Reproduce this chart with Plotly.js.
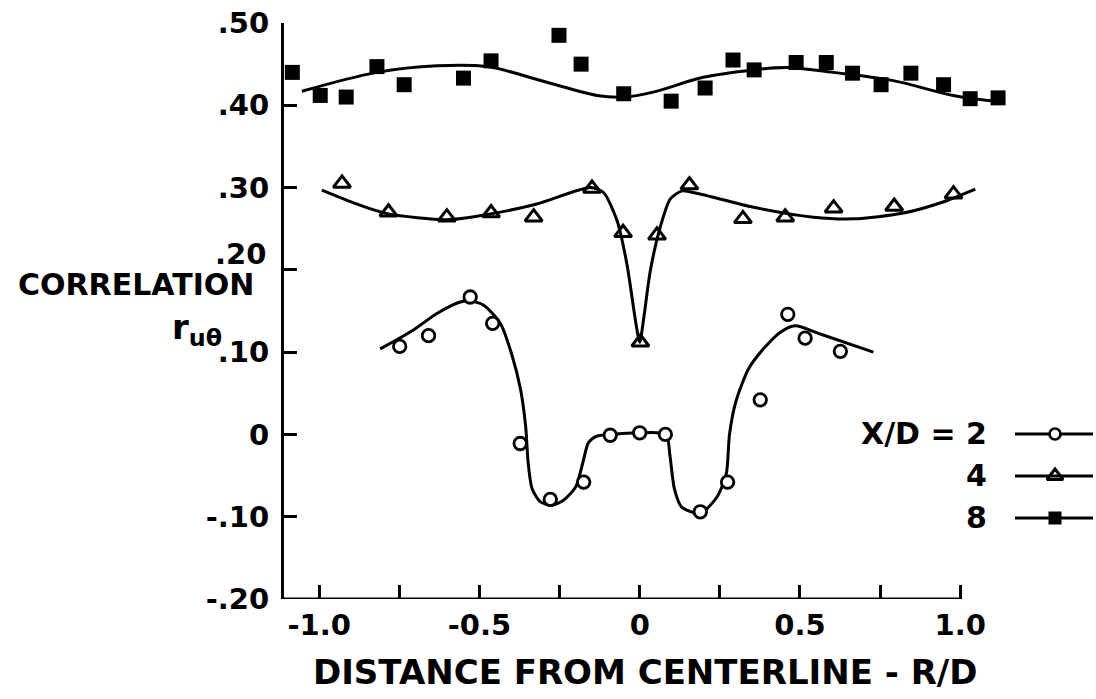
<!DOCTYPE html>
<html>
<head>
<meta charset="utf-8">
<script src="https://cdn.plot.ly/plotly-3.0.1.min.js"></script>
<style>html,body{margin:0;padding:0;background:#fff;}#chart{width:1096px;height:699px;}</style>
</head>
<body>
<div id="chart"></div>
<script>
// ---------- data ----------
// X/D = 8 : filled squares
const xd8X = [-1.084, -0.997, -0.916, -0.820, -0.735, -0.550, -0.464, -0.252, -0.183, -0.050, 0.098, 0.204, 0.291, 0.357, 0.488, 0.582, 0.664, 0.753, 0.846, 0.948, 1.031, 1.118];
const xd8Y = [0.440, 0.412, 0.410, 0.447, 0.425, 0.433, 0.454, 0.485, 0.450, 0.414, 0.405, 0.421, 0.455, 0.443, 0.452, 0.452, 0.439, 0.425, 0.439, 0.425, 0.408, 0.409];
const xd8CurveX = [-1.054, -0.820, -0.633, -0.477, -0.290, -0.134, -0.050, 0.042, 0.198, 0.354, 0.459, 0.604, 0.791, 0.978, 1.134];
const xd8CurveY = [0.417, 0.440, 0.448, 0.447, 0.428, 0.412, 0.410, 0.416, 0.434, 0.443, 0.446, 0.440, 0.430, 0.412, 0.404];

// X/D = 4 : open triangles
const xd4X = [-0.929, -0.784, -0.602, -0.464, -0.331, -0.149, -0.052, 0.002, 0.054, 0.155, 0.322, 0.454, 0.605, 0.794, 0.979];
const xd4Y = [0.305, 0.270, 0.264, 0.269, 0.264, 0.299, 0.245, 0.112, 0.242, 0.303, 0.262, 0.264, 0.275, 0.277, 0.292];
const xd4CurveX = [-0.992, -0.882, -0.784, -0.602, -0.466, -0.321, -0.154, -0.113, -0.071, -0.040, -0.012, 0.000, 0.012, 0.033, 0.064, 0.095, 0.132, 0.178, 0.355, 0.542, 0.667, 0.823, 0.958, 1.047];
const xd4CurveY = [0.297, 0.280, 0.268, 0.261, 0.268, 0.280, 0.300, 0.294, 0.260, 0.207, 0.135, 0.112, 0.140, 0.199, 0.252, 0.286, 0.296, 0.293, 0.276, 0.264, 0.262, 0.269, 0.284, 0.298];

// X/D = 2 : open circles
const xd2X = [-0.749, -0.659, -0.529, -0.459, -0.373, -0.279, -0.175, -0.092, 0.000, 0.080, 0.189, 0.274, 0.376, 0.462, 0.516, 0.626];
const xd2Y = [0.107, 0.120, 0.167, 0.135, -0.011, -0.079, -0.058, -0.001, 0.002, 0.000, -0.094, -0.058, 0.042, 0.146, 0.117, 0.101];
const xd2CurveX = [-0.810, -0.706, -0.633, -0.560, -0.529, -0.487, -0.435, -0.400, -0.372, -0.356, -0.348, -0.336, -0.310, -0.274, -0.238, -0.200, -0.178, -0.160, -0.134, -0.092, 0.000, 0.082, 0.094, 0.108, 0.130, 0.189, 0.241, 0.270, 0.280, 0.300, 0.340, 0.386, 0.438, 0.485, 0.563, 0.729];
const xd2CurveY = [0.104, 0.127, 0.147, 0.161, 0.162, 0.157, 0.135, 0.098, 0.055, 0.010, -0.035, -0.066, -0.082, -0.086, -0.080, -0.064, -0.035, -0.010, -0.002, 0.000, 0.002, 0.000, -0.025, -0.066, -0.088, -0.096, -0.076, -0.048, 0.000, 0.040, 0.080, 0.104, 0.124, 0.132, 0.122, 0.100];

const xTickVals = [-1, -0.75, -0.5, -0.25, 0, 0.25, 0.5, 0.75, 1];
const xTickText = ['-1.0', '', '-0.5', '', '0', '', '0.5', '', '1.0'];
const yTickVals = [-0.2, -0.1, 0, 0.1, 0.2, 0.3, 0.4, 0.5];
const yTickText = ['-.20', '-.10', '0', '.10', '.20', '.30', '.40', '.50'];

const seriesNames = ['X/D = 2', '4', '8'];

// ---------- layout constants ----------
const W = 1096, H = 699;
const FONT = 'DejaVu Sans';
const BLK = '#000';
const lineW = 3;

const lin = (x, y, sm) => ({x, y, type: 'scatter', mode: 'lines', line: {color: BLK, width: lineW, shape: 'spline', smoothing: sm}, hoverinfo: 'skip', xaxis: 'x', yaxis: 'y'});

const traces = [
  lin(xd8CurveX, xd8CurveY, 1.0),
  lin(xd4CurveX, xd4CurveY, 0.7),
  lin(xd2CurveX, xd2CurveY, 0.7),
  {x: xd8X, y: xd8Y, type: 'scatter', mode: 'markers', cliponaxis: false,
   marker: {symbol: 'square', size: 15, color: BLK, line: {width: 0}}},
  {x: xd4X, y: xd4Y, type: 'scatter', mode: 'markers', cliponaxis: false,
   marker: {symbol: 'triangle-up-open', size: 15, color: BLK, line: {width: 3, color: BLK}}},
  {x: xd2X, y: xd2Y, type: 'scatter', mode: 'markers', cliponaxis: false,
   marker: {symbol: 'circle', size: 12.5, color: '#fff', line: {width: 2.8, color: BLK}}},
];

// legend samples drawn in a pixel-space overlay subplot (x2/y2)
const legRows = [434, 476, 518];
const legSym = [
  {symbol: 'circle', size: 11, color: '#fff', line: {width: 2.6, color: BLK}},
  {symbol: 'triangle-up-open', size: 14, color: BLK, line: {width: 3, color: BLK}},
  {symbol: 'square', size: 13, color: BLK, line: {width: 0}},
];
legRows.forEach((py, i) => {
  traces.push({x: [1015, 1093], y: [py, py], type: 'scatter', mode: 'lines',
    xaxis: 'x2', yaxis: 'y2', hoverinfo: 'skip', line: {color: BLK, width: 3}});
  traces.push({x: [1055], y: [py], type: 'scatter', mode: 'markers',
    xaxis: 'x2', yaxis: 'y2', cliponaxis: false, hoverinfo: 'skip', marker: legSym[i]});
});

const bold = (s) => ({family: FONT, size: s, color: BLK, weight: 'bold'});
const annots = [
  {text: 'CORRELATION', x: 136, y: 284, font: bold(30)},
  {text: 'r<sub>uθ</sub>', x: 197, y: 329, font: bold(34)},
  {text: 'DISTANCE FROM CENTERLINE - R/D', x: 645, y: 672, font: bold(34)},
].map(a => Object.assign({xref: 'x2', yref: 'y2', showarrow: false, xanchor: 'center', yanchor: 'middle'}, a));
seriesNames.forEach((t, i) => {
  annots.push({text: t, x: 989, y: legRows[i] - 1, xref: 'x2', yref: 'y2', showarrow: false,
    xanchor: 'right', yanchor: 'middle', font: bold(30)});
});

const tickFont = bold(29);

const xDomain = [284 / W, 1003.5 / W];
// the ".20" label is lettered a little above its tick in the reference
const liftIdx = yTickVals.indexOf(0.2);
annots.push({text: yTickText[liftIdx], xref: 'paper', yref: 'y', x: xDomain[0], y: yTickVals[liftIdx],
  xshift: -16, yshift: 16, xanchor: 'right', yanchor: 'middle', showarrow: false, font: tickFont});
const yTickShown = yTickText.map((t, i) => i === liftIdx ? ' ' : t);

const layout = {
  width: W, height: H,
  margin: {l: 0, r: 0, t: 0, b: 0},
  paper_bgcolor: '#fff', plot_bgcolor: 'rgba(0,0,0,0)',
  showlegend: false,
  xaxis: {domain: xDomain, range: [-1.11, 1.135], anchor: 'y',
    tickmode: 'array', tickvals: xTickVals, ticktext: xTickText,
    ticks: 'inside', ticklen: 14, tickwidth: 3, tickcolor: BLK,
    showline: false, showgrid: false, zeroline: false,
    tickfont: tickFont, ticklabelstandoff: 6},
  yaxis: {domain: [100 / H, 676 / H], range: [-0.2, 0.5], anchor: 'x',
    tickmode: 'array', tickvals: yTickVals, ticktext: yTickShown,
    ticks: 'inside', ticklen: 13, tickwidth: 3, tickcolor: BLK,
    showline: true, linewidth: 3, linecolor: BLK, showgrid: false, zeroline: false,
    tickfont: tickFont, ticklabelstandoff: 6},
  xaxis2: {domain: [0, 1], range: [0, W], anchor: 'y2', visible: false, fixedrange: true},
  yaxis2: {domain: [0, 1], range: [H, 0], anchor: 'x2', visible: false, fixedrange: true},
  shapes: [
    {type: 'line', xref: 'x', yref: 'y', x0: -1.11, x1: 1.0, y0: -0.2, y1: -0.2,
     line: {color: BLK, width: 3}}
  ],
  annotations: annots,
};

Plotly.newPlot('chart', traces, layout, {displayModeBar: false, staticPlot: true});
</script>
</body>
</html>
